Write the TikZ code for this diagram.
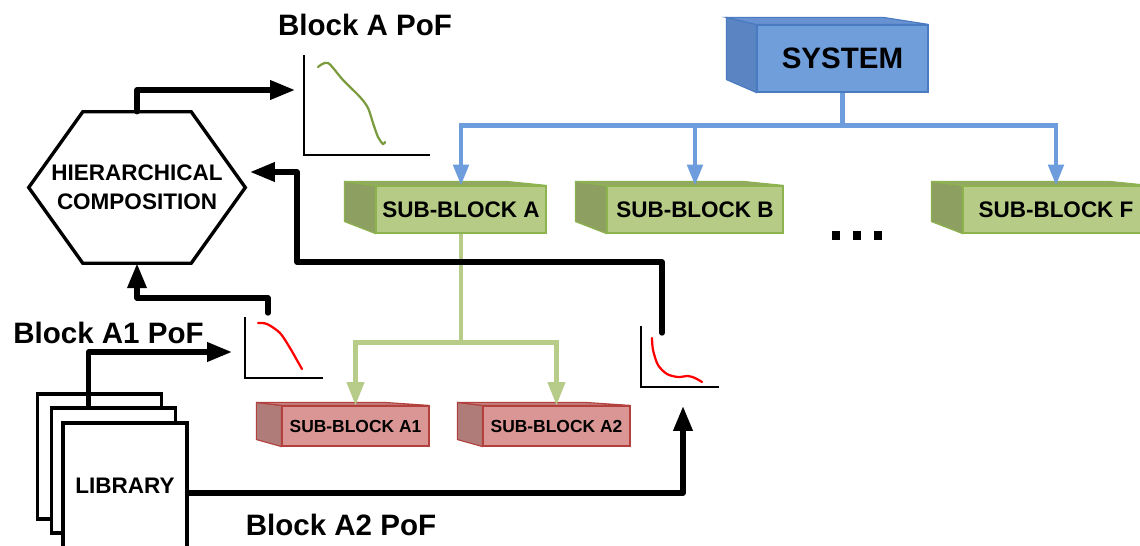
\documentclass[tikz,border=0pt]{standalone}
\usepackage{fontspec}
\setmainfont{Liberation Sans}
\usetikzlibrary{arrows.meta,positioning,calc}
\definecolor{sysfront}{HTML}{6F9EDB}
\definecolor{sysside}{HTML}{5A84C2}
\definecolor{systop}{HTML}{6791D0}
\definecolor{sysedge}{HTML}{4A7BC0}
\definecolor{grnfront}{HTML}{B5CB86}
\definecolor{grnside}{HTML}{8E9F62}
\definecolor{grntop}{HTML}{94A866}
\definecolor{grnedge}{HTML}{8DB34E}
\definecolor{redfront}{HTML}{D99694}
\definecolor{redside}{HTML}{B07C79}
\definecolor{redtop}{HTML}{C4807E}
\definecolor{rededge}{HTML}{B2403D}
\definecolor{bluearrow}{HTML}{6E9DDD}
\definecolor{grnarrow}{HTML}{B7CC88}
\definecolor{curvegreen}{HTML}{7B9B3E}
\tikzset{
  biglabel/.style={font=\fontsize{21}{25}\selectfont\bfseries},
  sysbox/.style={draw=sysedge, fill=sysfront, line width=0.8pt, minimum width=4.275cm, minimum height=1.675cm, font=\fontsize{21}{25}\selectfont\bfseries},
  grnbox/.style={draw=grnedge, fill=grnfront, line width=0.8pt, minimum width=4.25cm, minimum height=1.175cm, font=\fontsize{16}{19}\selectfont\bfseries},
  redbox/.style={draw=rededge, fill=redfront, line width=0.8pt, minimum width=3.675cm, minimum height=1cm, font=\fontsize{12.4}{15}\selectfont\bfseries},
  sheet/.style={draw, line width=2.4pt, fill=white, minimum width=3.1cm, minimum height=3.125cm, inner sep=0pt},
  hexlabel/.style={minimum width=5.4cm, minimum height=3.775cm, inner sep=0pt, align=center, font=\fontsize{16}{20.6}\selectfont\bfseries},
  hexline/.style={line width=2.4pt, line join=miter},
  blkline/.style={-{Triangle[length=6.2mm,width=4.6mm]}, line width=3.8pt, line cap=round, line join=round},
  blueline/.style={-{Triangle[length=5.2mm,width=3.8mm]}, line width=3.1pt, draw=bluearrow},
  grnline/.style={-{Triangle[length=5.8mm,width=4.2mm]}, line width=3.1pt, draw=grnarrow},
  axes/.style={line width=1.6pt},
  pof/.style={line width=1.6pt, line cap=round}
}
% draws the left and top faces of a block behind its front face
\newcommand{\boxsides}[8]{%
  \filldraw[draw=#8, fill=#6, line width=0.8pt] (#1.north west) -- ++(#2,#3) -- ($(#1.south west)+(#2,#4)$) -- (#1.south west) -- cycle;
  \filldraw[draw=#8, fill=#7, line width=0.8pt] (#1.north west) -- ++(#2,#3) -- ($(#1.north east)+(#5,#3)$) -- (#1.north east) -- cycle;
}

\begin{document}
\begin{tikzpicture}[x=0.025cm,y=-0.025cm]
  \useasboundingbox (0,0) rectangle (1140,546);
  \clip (0,0) rectangle (1140,546);

  % Block tree
  \node[sysbox] (sys) at (842.5,58.5) {SYSTEM};
  \boxsides{sys}{-30}{-7}{-13}{-45}{sysside}{systop}{sysedge}
  \node[grnbox] (suba) at (461,209.5) {SUB-BLOCK A};
  \boxsides{suba}{-31}{-4}{-12}{-40}{grnside}{grntop}{grnedge}
  \node[grnbox, minimum width=4.4cm] (subb) at (695,209.5) {SUB-BLOCK B};
  \boxsides{subb}{-31}{-4}{-12}{-40}{grnside}{grntop}{grnedge}
  \node[grnbox, minimum width=4.65cm] (subf) at (1056,209.5) {SUB-BLOCK F};
  \boxsides{subf}{-31}{-4}{-12}{-40}{grnside}{grntop}{grnedge}
  \node[redbox] (suba1) at (355.5,426) {SUB-BLOCK A1};
  \boxsides{suba1}{-25}{-3}{-7}{-45}{redside}{redtop}{rededge}
  \node[redbox] (suba2) at (556.5,426) {SUB-BLOCK A2};
  \boxsides{suba2}{-25}{-3}{-7}{-45}{redside}{redtop}{rededge}
  \foreach \x in {832,853,874}
    \fill (\x,231) rectangle ++(8,9);

  \foreach \b in {suba,subb,subf}
    \draw[blueline] (sys.south) -- ++(0,33) -| (\b.north);
  \foreach \b in {suba1,suba2}
    \draw[grnline] (suba.south) -- ++(0,109) -| (\b.north);

  % Hierarchical composition
  \node[hexlabel] (hier) at (137,187.5) {HIERARCHICAL\\COMPOSITION};
  \draw[hexline] (hier.west) -- ($(hier.north west)!0.25!(hier.north east)$) -- ($(hier.north west)!0.75!(hier.north east)$)
    -- (hier.east) -- ($(hier.south west)!0.75!(hier.south east)$) -- ($(hier.south west)!0.25!(hier.south east)$) -- cycle;

  % Library
  \node[sheet] (lib1) at (99.5,456.5) {};
  \node[sheet] (lib2) at (113.5,470.5) {};
  \node[sheet, minimum height=3.15cm, font=\fontsize{16}{19}\selectfont\bfseries] (lib) at (125,486) {LIBRARY};

  % PoF charts
  \draw[axes] (304,55) -- (304,155) -- (430,155);
  \draw[pof, curvegreen] plot[smooth] coordinates {(318,67) (328,63) (343,80) (360,97) (368,108) (373,123) (378,137) (383,144) (385,142)};
  \draw[axes] (245,317) -- (245,378) -- (323,378);
  \draw[pof, red] plot[smooth] coordinates {(258,323) (267,324) (280,333) (290,348) (298,362) (302,369)};
  \draw[axes] (641,326) -- (641,387) -- (719,387);
  \draw[pof, red] plot[smooth] coordinates {(652,338) (653,350) (658,365) (667,374) (678,377) (688,376) (695,378) (702,382)};

  \node[biglabel] (ttla) at (365,25) {Block A PoF};
  \node[biglabel] (ttla1) at (108.5,333) {Block A1 PoF};
  \node[biglabel] (ttla2) at (341,525) {Block A2 PoF};

  % PoF flow
  \coordinate (ain) at (295,90);
  \coordinate (a1in) at (232,352);
  \coordinate (a1out) at (268,313);
  \coordinate (a2in) at (683,406);
  \coordinate (a2out) at (662,333);
  \coordinate (a2bend) at (297,262);
  \coordinate (hexin) at (250,172);
  \draw[blkline] ($(lib2.north west)+(39,0)$) |- (a1in);
  \draw[blkline] ($(lib.east)+(0,7)$) -| (a2in);
  \draw[blkline] (a1out) -- ++(0,-15) -| (hier.south);
  \draw[blkline] (a2out) |- (a2bend) |- (hexin);
  \draw[blkline] (hier.north) |- (ain);
\end{tikzpicture}
\end{document}
